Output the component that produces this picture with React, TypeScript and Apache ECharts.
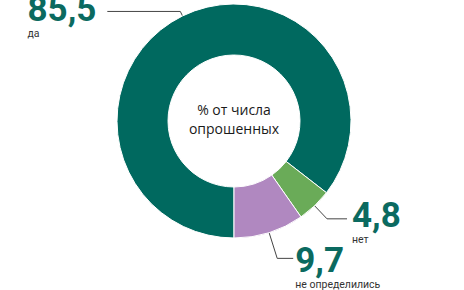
import React, { useEffect, useRef } from "react";
import * as echarts from "echarts";

const categories = ["да", "нет", "не определились"];
const values = [85.5, 4.8, 9.7];
const valueLabels = ["85,5", "4,8", "9,7"];
const colors = ["#00695f", "#6aab58", "#b088c0"];
const centerText = "% от числа\nопрошенных";

const lineCfg = [
  { length: 5, length2: 73, dist: 11, padTop: 9 },
  { length: 18, length2: 20, dist: 5, padTop: 7 },
  { length: 27, length2: 16, dist: 2, padTop: 17 },
];

export default function App() {
  const ref = useRef<HTMLDivElement>(null);
  useEffect(() => {
    if (!ref.current) return;
    const chart = echarts.init(ref.current, undefined, { renderer: "svg" });
    const cx = 234;
    const cy = 121;
    chart.setOption({
      animation: false,
      graphic: [
        {
          type: "text",
          x: cx,
          y: cy - 2,
          style: {
            text: centerText,
            align: "center",
            verticalAlign: "middle",
            fontFamily: "Open Sans",
            fontSize: 14,
            lineHeight: 19,
            fill: "#1a1a1a",
          },
        },
      ],
      series: [
        {
          type: "pie",
          center: [cx, cy],
          radius: [66, 117],
          startAngle: 270,
          clockwise: true,
          avoidLabelOverlap: false,
          labelLayout: { hideOverlap: false },
          itemStyle: { borderColor: "#fff", borderWidth: 1 },
          emphasis: { disabled: true },
          labelLine: { lineStyle: { color: "#444", width: 1 } },
          data: categories.map((name, i) => ({
            name,
            value: values[i],
            itemStyle: { color: colors[i] },
            labelLine: {
              show: true,
              length: lineCfg[i].length,
              length2: lineCfg[i].length2,
              lineStyle: { color: "#444", width: 1 },
            },
            label: {
              show: true,
              position: "outside",
              overflow: "none",
              distanceToLabelLine: lineCfg[i].dist,
              padding: [lineCfg[i].padTop, 0, 0, 0],
              formatter: () => `{v|${valueLabels[i]}}\n{n|${name}}`,
              rich: {
                v: {
                  fontFamily: "Roboto",
                  fontWeight: 700,
                  fontSize: 35,
                  lineHeight: 35,
                  color: "#0b6a60",
                  align: "left",
                },
                n: {
                  fontFamily: "Roboto",
                  fontSize: 10.5,
                  lineHeight: 13,
                  color: "#333",
                  align: "left",
                },
              },
            },
          })),
        },
      ],
    });
    return () => chart.dispose();
  }, []);
  return (
    <div
      ref={ref}
      style={{ position: "fixed", left: 0, top: 0, width: 464, height: 290, background: "#fff" }}
    />
  );
}
